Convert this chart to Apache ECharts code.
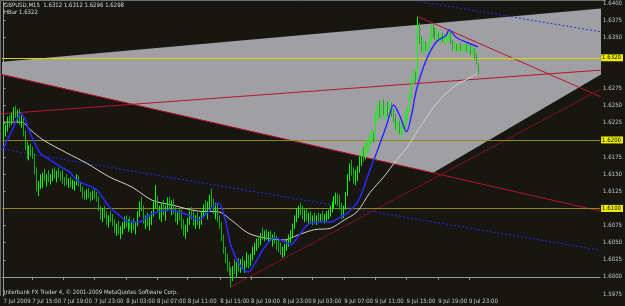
<!DOCTYPE html>
<html>
<head>
<meta charset="utf-8">
<script src="https://cdn.jsdelivr.net/npm/echarts@6/dist/echarts.min.js"></script>
<style>
  html, body { margin: 0; padding: 0; background: #171611; }
  #chart { width: 625px; height: 306px; }
</style>
</head>
<body>
<div id="chart"></div>
<script>
// prices are kept as pips above 1.6000 (e.g. 298 -> 1.6298)
const BASE = 1.6

const barHigh = [
  225, 222, 234, 236, 240, 248, 250, 244, 246, 236, 232, 214, 198, 192, 195, 190, 180, 160, 140, 150,
  152, 158, 150, 156, 150, 158, 160, 155, 160, 154, 156, 146, 150, 144, 146, 142, 140, 150, 148, 138,
  132, 126, 128, 130, 124, 126, 128, 124, 118, 104, 100, 104, 96, 90, 96, 92, 84, 78, 82, 74,
  80, 88, 90, 84, 88, 82, 86, 80, 96, 110, 117, 104, 90, 94, 88, 96, 110, 134, 118, 104,
  108, 112, 104, 116, 117, 112, 114, 102, 96, 100, 98, 84, 76, 86, 96, 102, 96, 90, 94, 88,
  96, 106, 112, 110, 120, 129, 114, 108, 106, 90, 80, 62, 44, 34, 22, 14, 16, 26, 22, 28,
  26, 30, 24, 36, 32, 34, 44, 50, 56, 60, 64, 72, 68, 70, 66, 68, 62, 66, 60, 54,
  50, 44, 48, 56, 62, 68, 78, 90, 100, 104, 108, 104, 98, 100, 94, 96, 90, 94, 90, 94,
  92, 96, 92, 96, 98, 104, 110, 118, 123, 122, 120, 108, 104, 124, 150, 166, 171, 160, 156, 162,
  176, 186, 190, 196, 200, 206, 215, 212, 240, 254, 258, 252, 260, 250, 256, 258, 254, 246, 238, 230,
  228, 222, 228, 240, 248, 268, 292, 302, 300, 380, 371, 352, 346, 344, 342, 350, 368, 370, 364, 362,
  358, 354, 356, 352, 356, 361, 358, 346, 342, 340, 340, 342, 338, 342, 340, 338, 340, 336, 334, 326,
  312,
]
const barLow = [
  200, 205, 212, 218, 222, 228, 232, 226, 222, 218, 205, 185, 172, 170, 176, 172, 150, 125, 118, 128,
  130, 140, 132, 138, 135, 140, 144, 138, 145, 140, 136, 132, 134, 130, 131, 128, 126, 134, 132, 124,
  115, 112, 113, 115, 110, 112, 114, 110, 96, 84, 80, 86, 76, 72, 80, 74, 64, 60, 62, 55,
  62, 70, 72, 66, 70, 64, 68, 62, 74, 88, 96, 78, 70, 74, 68, 76, 88, 100, 94, 84,
  80, 90, 82, 96, 98, 90, 92, 80, 76, 82, 70, 60, 56, 66, 76, 84, 74, 70, 76, 70,
  76, 86, 90, 84, 98, 102, 92, 84, 80, 70, 52, 34, 20, 8, 2, -15, -6, 4, 0, 8,
  6, 10, 6, 14, 12, 16, 24, 32, 38, 42, 46, 54, 52, 54, 50, 52, 44, 48, 40, 36,
  32, 28, 30, 38, 44, 50, 58, 70, 80, 86, 90, 84, 80, 82, 78, 80, 76, 78, 76, 80,
  80, 82, 78, 82, 84, 88, 94, 100, 106, 104, 98, 84, 86, 98, 118, 140, 148, 136, 134, 140,
  152, 162, 168, 172, 178, 184, 194, 196, 200, 226, 232, 230, 236, 229, 234, 236, 234, 226, 215, 210,
  208, 204, 210, 216, 226, 240, 260, 280, 282, 290, 340, 328, 326, 330, 328, 332, 342, 350, 346, 344,
  344, 342, 343, 340, 342, 344, 340, 330, 328, 330, 328, 330, 328, 330, 328, 326, 324, 322, 318, 310,
  296,
]
const barClose = [
  215, 218, 230, 222, 236, 244, 236, 240, 228, 230, 210, 190, 180, 185, 182, 176, 155, 130, 135, 140,
  148, 145, 146, 142, 148, 150, 146, 152, 148, 144, 140, 138, 136, 140, 134, 136, 138, 146, 135, 128,
  120, 118, 124, 117, 114, 122, 120, 114, 100, 88, 95, 90, 80, 86, 84, 78, 70, 74, 66, 70,
  76, 84, 78, 80, 74, 78, 72, 76, 92, 104, 100, 82, 86, 80, 84, 92, 106, 112, 98, 100,
  104, 96, 100, 110, 102, 106, 96, 86, 92, 88, 76, 66, 72, 82, 92, 88, 80, 84, 82, 86,
  92, 102, 94, 106, 114, 108, 96, 100, 84, 74, 56, 38, 28, 14, 6, 2, 12, 8, 18, 14,
  20, 14, 22, 30, 18, 30, 40, 44, 52, 46, 60, 58, 64, 60, 62, 56, 58, 52, 46, 42,
  36, 40, 44, 52, 58, 64, 74, 86, 94, 100, 96, 88, 94, 86, 90, 84, 86, 82, 88, 84,
  88, 86, 90, 92, 94, 100, 106, 114, 118, 110, 104, 90, 100, 120, 144, 160, 152, 144, 150, 156,
  170, 180, 176, 190, 194, 200, 208, 204, 234, 246, 240, 248, 240, 244, 238, 250, 240, 232, 220, 226,
  214, 218, 222, 236, 244, 264, 288, 296, 292, 360, 346, 334, 340, 334, 338, 346, 362, 356, 350, 358,
  348, 350, 346, 348, 352, 356, 344, 336, 338, 334, 336, 334, 336, 338, 332, 334, 328, 330, 322, 312,
  298,
]
const firstOpen = 210

// moving averages, [bar, pips]
const fastMa = [
  [0, 188], [4, 212], [9, 239], [13.5, 210], [18.5, 181], [23.5, 171], [30, 159], [33.5, 153],
  [37, 141], [40, 137], [47, 127], [53.5, 102], [58.5, 90], [63.5, 80], [68.5, 80], [73.5, 90],
  [78.5, 95], [83.5, 98], [88.5, 95], [93.5, 90], [98.5, 83], [103.5, 95], [108.5, 108], [112, 83],
  [115, 44], [120, 14], [123.5, 7], [127, 20], [132, 44], [137, 57], [142, 51], [145, 47],
  [148.5, 58], [153.5, 76], [158.5, 80], [165, 80], [170, 87], [173.5, 93], [178.5, 108], [182, 131],
  [185, 156], [188.5, 182], [193.5, 222], [197, 251], [200, 236], [203.5, 212], [206, 236], [208.5, 273],
  [213.5, 317], [218.5, 343], [223.5, 353], [225, 361], [228.5, 350], [233.5, 343], [239.5, 336],
]
const slowMa = [
  [0, 226], [9, 226], [13.5, 215], [20, 200], [32, 181], [42, 166], [53.5, 146], [65, 131],
  [75, 112], [85, 105], [98.5, 96], [108.5, 95], [115, 83], [123.5, 64], [132, 57], [142, 54],
  [148.5, 61], [157, 69], [165, 71], [172, 83], [178.5, 95], [185, 123], [192, 146], [198.5, 171],
  [203.5, 188], [211, 222], [220, 258], [228.5, 280], [235, 290], [239.5, 298],
]

// chart objects, [bar, pips]
const wedge = [[-20.5, 309], [217, 152], [368.5, 409]]
const redRay = [[-1.5, 296], [301.5, 96]]
const redLong = [[-1.5, 238], [301.5, 302]]
const redFromTop = [[209.5, 380], [301.5, 263]]
const supportRay = [[114.5, -15], [301.5, 274]]
const chanLow = [[-1.5, 187], [301.5, 39]]
const chanHigh = [[208.5, 403], [301.5, 358]]

const levelBright = [320]
const levelDim = [200, 100]
const bidPips = 298

const priceTicks = [400, 375, 350, 275, 250, 225, 175, 150, 125, 75, 50, 25, 0, -25]
const timeLabels = [
  '7 Jul 2009', '7 Jul 15:00', '7 Jul 19:00', '7 Jul 23:00', '8 Jul 03:00', '8 Jul 07:00',
  '8 Jul 11:00', '8 Jul 15:00', '8 Jul 19:00', '8 Jul 23:00', '9 Jul 03:00', '9 Jul 07:00',
  '9 Jul 11:00', '9 Jul 15:00', '9 Jul 19:00', '9 Jul 23:00',
]
const timeLabelBars = [0, 14.5, 30, 46, 62, 77.5, 93, 109.5, 125, 141, 156, 172, 187.5, 203.5, 219.5, 235]

const FONT = '"Liberation Sans Narrow","DejaVu Sans Condensed","Liberation Sans",sans-serif'
const C = {
  bg: '#171611',
  axis: '#9a9a9a',
  text: '#c8c8c8',
  up: '#00ff00',
  down: '#12b012',
  fast: '#2a2aff',
  slow: '#d4d4cc',
  wedge: '#a0a0a4',
  red: '#b8142a',
  maroon: '#8a1020',
  blue: '#2a2ae6',
  yellow: '#d8d800',
  olive: '#8a8a1e',
}

const fmtPrice = (v) => (BASE + v / 10000).toFixed(4)

// [bar, open, close, low, high]
const candles = barHigh.map((h, i) => [i, i === 0 ? firstOpen : barClose[i - 1], barClose[i], barLow[i], h])

const trend = (data, color, type, z) => ({
  type: 'line',
  data,
  symbol: 'none',
  silent: true,
  z,
  lineStyle: { color, width: 1, type },
})

const level = (v, line, bg) => ({
  yAxis: v,
  lineStyle: { color: line || '#000', width: 1, type: 'solid', opacity: line ? 1 : 0 },
  label: {
    show: true,
    position: 'end',
    distance: 1,
    formatter: fmtPrice(v),
    color: '#000',
    backgroundColor: bg,
    padding: [1, 2, 0, 1],
    fontSize: 6,
    fontFamily: FONT,
  },
})

const chart = echarts.init(document.getElementById('chart'), null, { renderer: 'canvas' })

chart.setOption({
  animation: false,
  backgroundColor: C.bg,
  grid: { left: 2, right: 19, top: 2, bottom: 10 },
  xAxis: {
    type: 'value',
    min: -0.75,
    max: 301.25,
    axisLine: { show: true, lineStyle: { color: C.axis } },
    axisTick: { show: true, customValues: timeLabelBars, length: 3, lineStyle: { color: C.axis } },
    axisLabel: {
      customValues: timeLabelBars,
      formatter: (v) => timeLabels[timeLabelBars.indexOf(v)],
      align: 'left',
      margin: 2,
      color: C.text,
      fontSize: 6,
      fontFamily: FONT,
    },
    splitLine: { show: false },
  },
  yAxis: {
    type: 'value',
    position: 'right',
    min: -27.9,
    max: 401.46,
    axisLine: { show: true, lineStyle: { color: C.axis } },
    axisTick: { show: true, customValues: priceTicks, length: 2, lineStyle: { color: C.axis } },
    axisLabel: {
      customValues: priceTicks,
      formatter: fmtPrice,
      margin: 3,
      color: C.text,
      fontSize: 6,
      fontFamily: FONT,
    },
    splitLine: { show: false },
  },
  graphic: [
    { type: 'line', shape: { x1: 0.5, y1: 0.5, x2: 606, y2: 0.5 }, style: { stroke: '#6e6e6e' } },
    { type: 'line', shape: { x1: 0.5, y1: 0.5, x2: 0.5, y2: 296 }, style: { stroke: '#6e6e6e' } },
    {
      type: 'text', left: 4, top: 2, z: 50,
      style: { text: 'GBPUSD,M15  1.6312 1.6312 1.6296 1.6298', fill: '#d8d8d8', fontSize: 6, fontFamily: FONT },
    },
    {
      type: 'text', left: 4, top: 9, z: 50,
      style: { text: 'HBar 1.6322', fill: '#d8d8d8', fontSize: 6, fontFamily: FONT },
    },
    {
      type: 'text', left: 4, top: 289, z: 50,
      style: { text: 'Interbank FX Trader 4, \u00a9 2001-2009 MetaQuotes Software Corp.', fill: '#d0d0d0', fontSize: 6, fontFamily: FONT },
    },
  ],
  series: [
    {
      type: 'custom',
      silent: true,
      clip: true,
      z: 1,
      data: [0],
      renderItem: (params, api) => ({
        type: 'polygon',
        shape: { points: wedge.map((p) => api.coord(p)) },
        style: { fill: C.wedge },
      }),
    },
    {
      type: 'line',
      data: [],
      z: 2,
      markLine: {
        symbol: 'none',
        silent: true,
        data: [
          ...levelBright.map((v) => level(v, C.yellow, '#f0f000')),
          ...levelDim.map((v) => level(v, C.olive, '#f0f000')),
          level(bidPips, null, '#f2f2f2'),
        ],
      },
    },
    trend(chanLow, C.blue, [2, 2], 3),
    trend(chanHigh, C.blue, [2, 2], 3),
    trend(redLong, C.red, 'solid', 3),
    trend(redRay, C.red, 'solid', 3),
    trend(redFromTop, C.red, 'solid', 3),
    trend(supportRay, C.maroon, 'solid', 3),
    {
      type: 'line',
      data: slowMa,
      symbol: 'none',
      smooth: 0.3,
      silent: true,
      z: 5,
      lineStyle: { color: C.slow, width: 1 },
    },
    {
      type: 'candlestick',
      silent: true,
      z: 20,
      data: candles,
      encode: { x: 0, y: [1, 2, 3, 4] },
      barWidth: 0.01,
      itemStyle: {
        color: C.up,
        color0: C.down,
        borderColor: C.up,
        borderColor0: C.down,
        borderWidth: 1,
      },
    },
    {
      type: 'line',
      data: fastMa,
      symbol: 'none',
      smooth: 0.3,
      silent: true,
      z: 21,
      lineStyle: { color: C.fast, width: 1.5 },
    },
  ],
})
</script>
</body>
</html>
